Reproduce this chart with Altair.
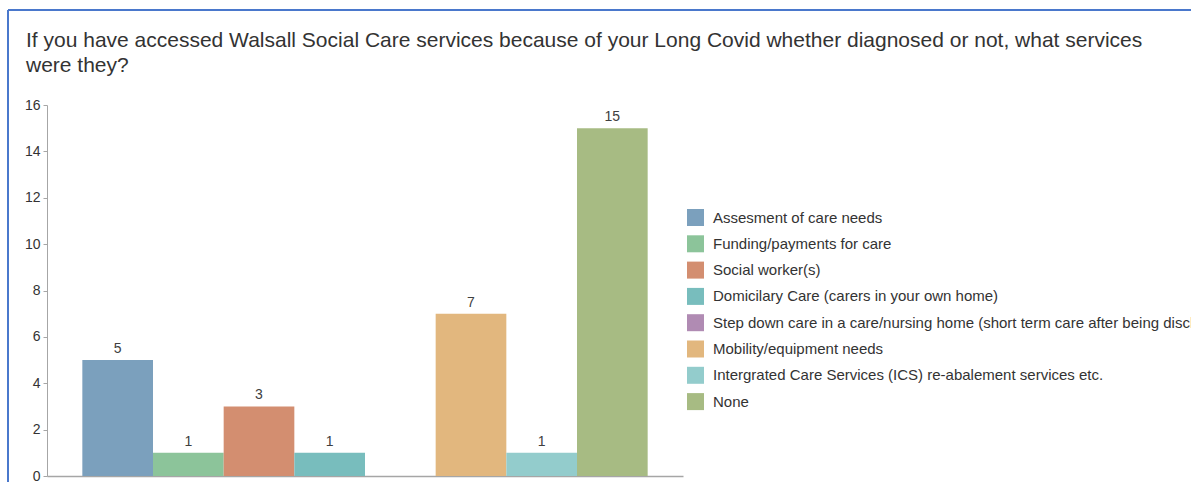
import altair as alt
import pandas as pd

categories = [
    "Assesment of care needs",
    "Funding/payments for care",
    "Social worker(s)",
    "Domicilary Care (carers in your own home)",
    "Step down care in a care/nursing home (short term care after being discharged from hospital)",
    "Mobility/equipment needs",
    "Intergrated Care Services (ICS) re-abalement services etc.",
    "None",
]
values = [5, 1, 3, 1, 0, 7, 1, 15]
colors = ["#7ba0bd", "#8cc49a", "#d38e70", "#78bdbd", "#b08bb3", "#e2b77e", "#93cccc", "#a7bb83"]
y_ticks = [0, 2, 4, 6, 8, 10, 12, 14, 16]
title_text = ("If you have accessed Walsall Social Care services because of your Long Covid whether diagnosed or not, what services"
              "\nwere they?")

FONT = "Liberation Sans"
df = pd.DataFrame({"category": categories, "value": values})

x_enc = alt.X("category:N", sort=categories,
              scale=alt.Scale(paddingInner=0, paddingOuter=0.5),
              axis=alt.Axis(title=None, labels=False, ticks=False, domain=True,
                            domainColor="#a6a6a6", domainWidth=1.5))

bars = alt.Chart(df).mark_bar().encode(
    x=x_enc,
    y=alt.Y("value:Q", scale=alt.Scale(domain=[0, 16], nice=False),
            axis=alt.Axis(title=None, values=y_ticks, grid=False, tickSize=4,
                          tickColor="#a6a6a6", domainColor="#a6a6a6",
                          labelFontSize=14, labelColor="#333333", labelFont=FONT,
                          labelPadding=3)),
    color=alt.Color("category:N", sort=categories,
                    scale=alt.Scale(domain=categories, range=colors),
                    legend=alt.Legend(title=None, orient="none", legendX=640, legendY=104,
                                      symbolType="square", symbolSize=289,
                                      symbolStrokeWidth=0, symbolOpacity=1,
                                      labelFontSize=15, labelColor="#333333",
                                      labelFont=FONT, labelLimit=2000,
                                      rowPadding=9.3, labelOffset=9, padding=0)),
)

labels = alt.Chart(df).transform_filter(alt.datum.value > 0).mark_text(
    baseline="bottom", dy=-4, fontSize=14, color="#404040", font=FONT
).encode(
    x=alt.X("category:N", sort=categories),
    y=alt.Y("value:Q"),
    text=alt.Text("value:Q"),
)

title_df = pd.DataFrame({"t": [title_text]})
title = alt.Chart(title_df).mark_text(
    align="left", baseline="alphabetic", fontSize=21, font=FONT, color="#333333",
    lineBreak="\n", lineHeight=25
).encode(x=alt.value(-21), y=alt.value(-58), text="t:N")

frame_df = pd.DataFrame({"k": [0]})
left_line = alt.Chart(frame_df).mark_rule(color="#4a78cc", strokeWidth=2).encode(
    x=alt.value(-39), y=alt.value(-95), y2=alt.value(420)
)
top_line = alt.Chart(frame_df).mark_rule(color="#4a78cc", strokeWidth=2).encode(
    x=alt.value(-39), x2=alt.value(1200), y=alt.value(-95)
)

chart = alt.layer(left_line, top_line, title, bars, labels).properties(
    width=636,
    height=371,
    autosize=alt.AutoSizeParams(type="none"),
    padding={"left": 47, "top": 105, "right": 508, "bottom": 6},
).configure(background="white").configure_view(stroke=None)

chart.save("out.html", embed_options={"renderer": "svg", "actions": False})
